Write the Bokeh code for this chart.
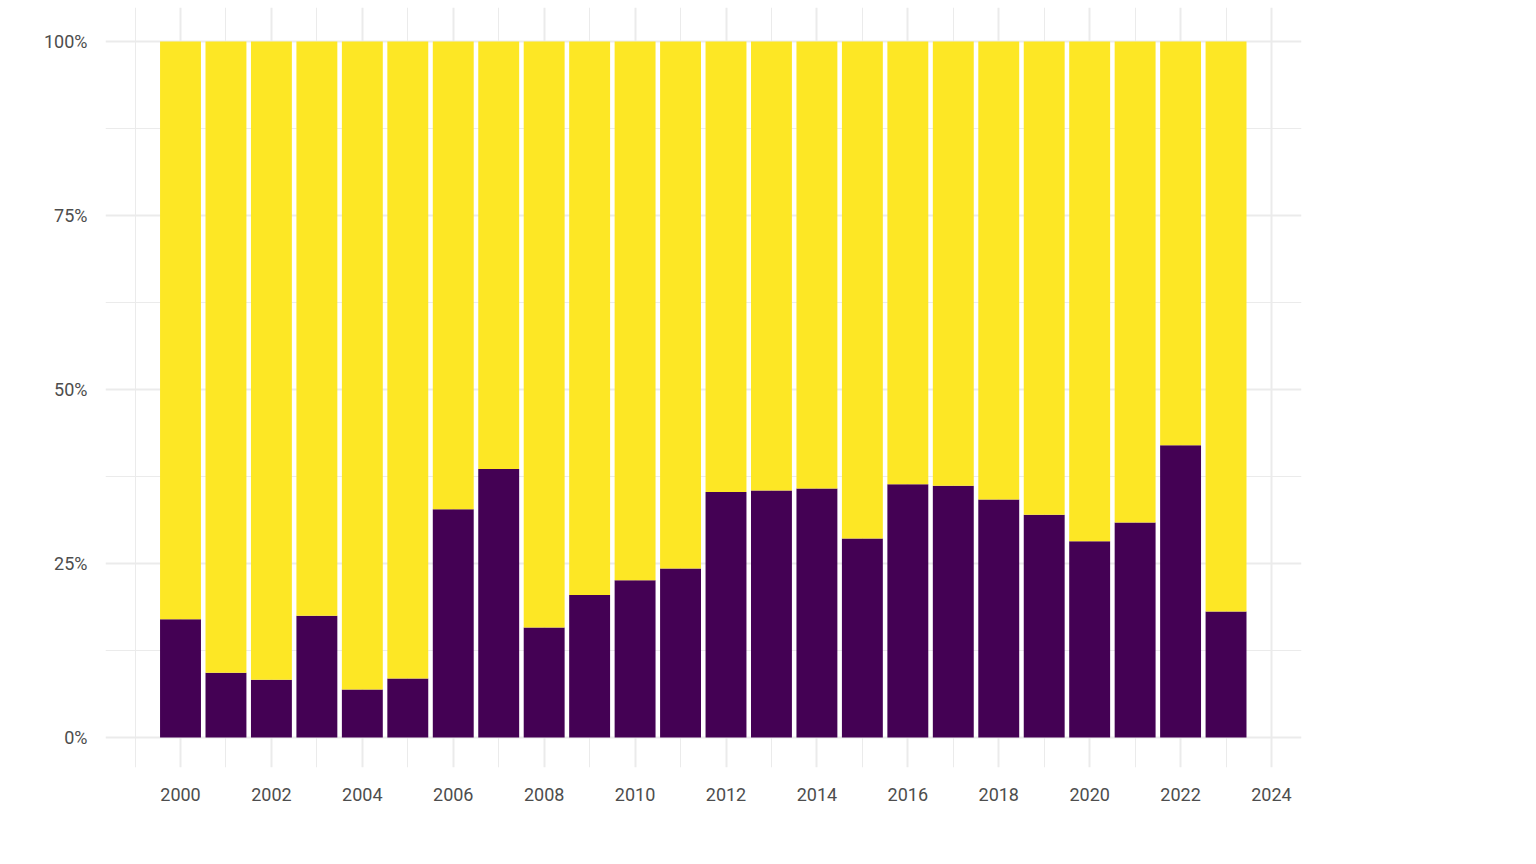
from bokeh.plotting import figure
from bokeh.models import ColumnDataSource, FixedTicker, Legend, LegendItem, NumeralTickFormatter
from bokeh.embed import file_html
from bokeh.resources import INLINE

years = list(range(2000, 2024))
traditional = [0.170, 0.093, 0.083, 0.175, 0.069, 0.085, 0.328, 0.386, 0.158, 0.205,
               0.226, 0.243, 0.353, 0.355, 0.358, 0.286, 0.364, 0.362, 0.342, 0.320,
               0.282, 0.309, 0.420, 0.181]
other = [1 - t for t in traditional]
x_ticks = list(range(2000, 2025, 2))
y_ticks = [0, 0.25, 0.5, 0.75, 1.0]

src = ColumnDataSource(dict(year=years, traditional=traditional, other=other))

p = figure(frame_width=1196, frame_height=760, output_backend="svg", toolbar_location=None,
           x_range=(1998.35, 2024.66), y_range=(-0.043, 1.049),
           min_border_left=105, min_border_right=5, min_border_top=7, min_border_bottom=70)
p.outline_line_color = None
renderers = p.vbar_stack(["traditional", "other"], x="year", width=0.9, source=src,
                         color=["#440154", "#FDE725"], line_color=None)

p.xaxis.ticker = FixedTicker(ticks=x_ticks, minor_ticks=list(range(1999, 2025, 2)))
p.yaxis.ticker = FixedTicker(ticks=y_ticks, minor_ticks=[0.125, 0.375, 0.625, 0.875])
p.yaxis.formatter = NumeralTickFormatter(format="0%")
for ax in (p.xaxis, p.yaxis):
    ax.axis_line_color = None
    ax.major_tick_line_color = None
    ax.minor_tick_line_color = None
    ax.major_label_text_font = "Roboto"
    ax.major_label_text_font_size = "18px"
    ax.major_label_text_color = "#4d4d4d"
p.xaxis.major_label_standoff = 14
p.yaxis.major_label_standoff = 12
for g in (p.xgrid, p.ygrid):
    g.grid_line_color = "#ebebeb"
    g.grid_line_width = 2
    g.minor_grid_line_color = "#ebebeb"
    g.minor_grid_line_width = 1

legend = Legend(items=[LegendItem(label="other", renderers=[renderers[1]]),
                       LegendItem(label="traditional", renderers=[renderers[0]])],
                glyph_width=42, glyph_height=42, label_text_font="Roboto",
                label_text_font_size="20px", label_text_color="#1a1a1a",
                border_line_color=None, background_fill_alpha=0, spacing=4,
                location="center", margin=40, padding=6, label_standoff=16)
p.add_layout(legend, "right")

open("out.html", "w").write(file_html(p, INLINE))
